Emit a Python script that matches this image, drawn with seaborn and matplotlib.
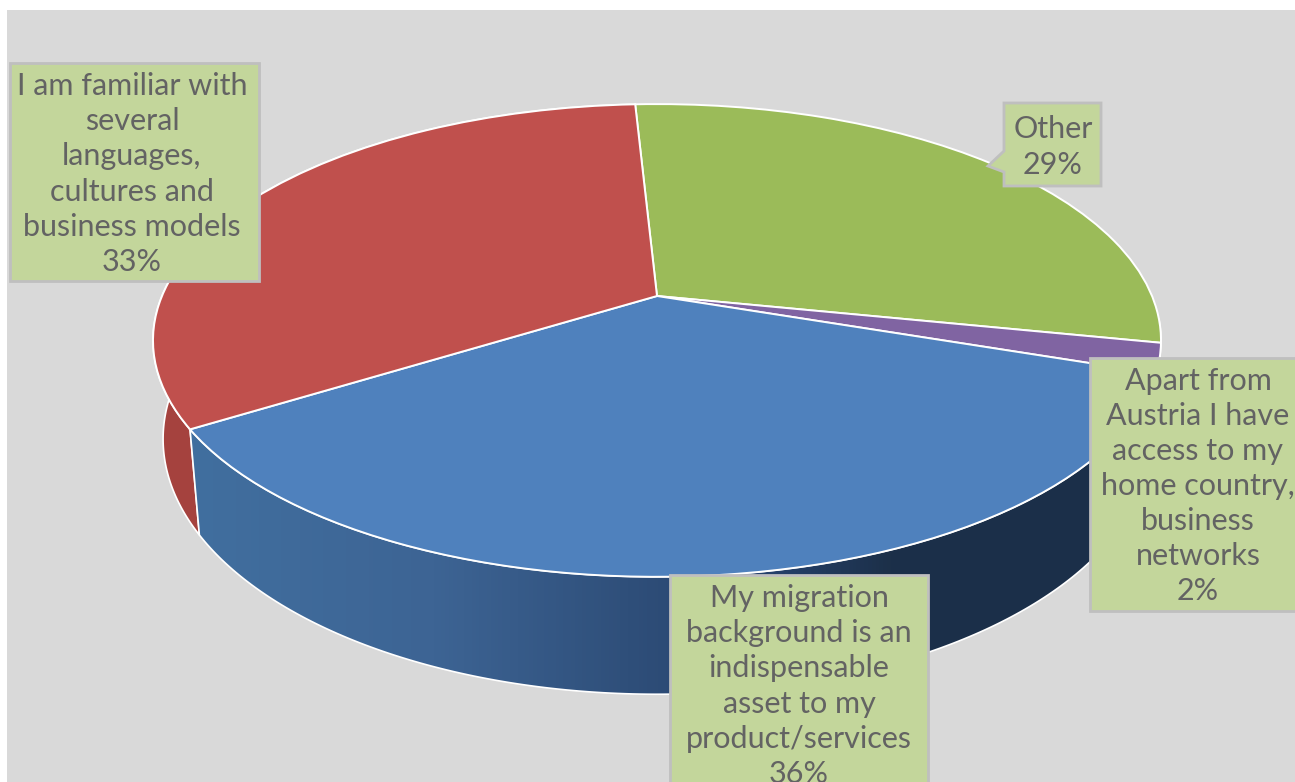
import numpy as np
import matplotlib
matplotlib.use('Agg')
import matplotlib.pyplot as plt
import matplotlib.transforms as mtransforms
from matplotlib.colors import LinearSegmentedColormap
from matplotlib.patches import Polygon, Rectangle
import seaborn as sns

#data
categories = ['Other',
              'Apart from\nAustria I have\naccess to my\nhome country,\nbusiness\nnetworks',
              'My migration\nbackground is an\nindispensable\nasset to my\nproduct/services',
              'I am familiar with\nseveral\nlanguages,\ncultures and\nbusiness models']
shares = [29, 2, 36, 33]
colors = ['#9bbb59', '#8064a2', '#4f81bd', '#c0504d']

#label boxes in pixels: left, top, right, bottom
boxes = [(1004, 103, 1101, 186), (1090, 358, 1300, 611),
         (670, 575, 928, 800), (10, 63, 259, 281)]
label_x = [1053, 1198, 799, 132]
label_y = [147, 486, 686, 174]

#Perspective of the pie (pixels)
cx, cy = 657, 296
a, b, k = 495, 228, 0.188
wall_sx, wall_sy, wall_dy = 0.98, 1.08, 95


class Tilt(mtransforms.Transform):
    input_dims = 2
    output_dims = 2

    def transform_non_affine(self, xy):
        xy = np.asarray(xy, dtype=float)
        d = 1 + k * xy[:, 1]
        return np.column_stack([cx + a * xy[:, 0] / d, cy - b * xy[:, 1] / d])


def top_edge(t):
    d = 1 + k * np.sin(t)
    return a * np.cos(t) / d, b * np.sin(t) / d


def wall_poly(theta1, theta2):
    t = np.radians(np.linspace(theta1, theta2, 200))
    x, y = top_edge(t)
    upper = np.column_stack([cx + x, cy - y])
    lower = np.column_stack([cx + wall_sx * x, cy - (wall_sy * y - wall_dy)])
    return np.vstack([upper, lower[::-1]])


sns.set_theme(style='white')
plt.rcParams['font.family'] = ['Lato', 'DejaVu Sans']

fig = plt.figure(figsize=(12.95, 7.82), dpi=100, facecolor='white')
ax = fig.add_axes([0, 0, 1, 1])

palette = sns.color_palette(colors)
wedges, _ = ax.pie(shares, colors=palette, startangle=93, counterclock=False,
                   wedgeprops={'edgecolor': 'white', 'linewidth': 1.4, 'zorder': 5})
tilt = Tilt() + ax.transData
for w in wedges:
    w.set_transform(tilt)

ax.set_aspect('auto')
ax.axis('off')

ax.add_patch(Rectangle((7, 10), 1290, 775, facecolor='#d9d9d9', edgecolor='none', zorder=0))

#side walls, wedge angles come from the pie
red_wall = Polygon(wall_poly(wedges[3].theta1, wedges[3].theta2), closed=True,
                   facecolor='#a5423e', edgecolor='white', linewidth=1.2, zorder=2)
ax.add_patch(red_wall)

blue_poly = wall_poly(wedges[2].theta1, wedges[2].theta2 + 13)
blue_wall = Polygon(blue_poly, closed=True, facecolor='none', edgecolor='white',
                    linewidth=1.2, zorder=3)
ax.add_patch(blue_wall)
wall_cmap = LinearSegmentedColormap.from_list('wall', [
    (0.0, '#416f9f'), (0.25, '#3d6494'), (0.45, '#2f4f7a'),
    (0.6, '#25406a'), (0.72, '#1c3049'), (1.0, '#1b2f4a')])
im = ax.imshow(np.linspace(0, 1, 256)[None, :], extent=(190, 1165, 720, 300), aspect='auto',
               cmap=wall_cmap, zorder=2.5)
im.set_clip_path(blue_wall)

#label boxes
text_color = '#636363'
for i, (l, t, r, bt) in enumerate(boxes):
    if i == 0:
        pts = [(l, t), (r, t), (r, bt), (l, bt), (l, 172), (988, 166), (l, 151)]
    else:
        pts = [(l, t), (r, t), (r, bt), (l, bt)]
    ax.add_patch(Polygon(pts, closed=True, facecolor='#c3d69b', edgecolor='#bfbfbf',
                         linewidth=2, zorder=6))
    ax.text(label_x[i], label_y[i], f'{categories[i]}\n{shares[i]}%',
            ha='center', va='center', fontsize=22, color=text_color,
            linespacing=1.31, zorder=7)

ax.set_xlim(0, 1295)
ax.set_ylim(782, 0)

fig.savefig('out.png', dpi=100)
